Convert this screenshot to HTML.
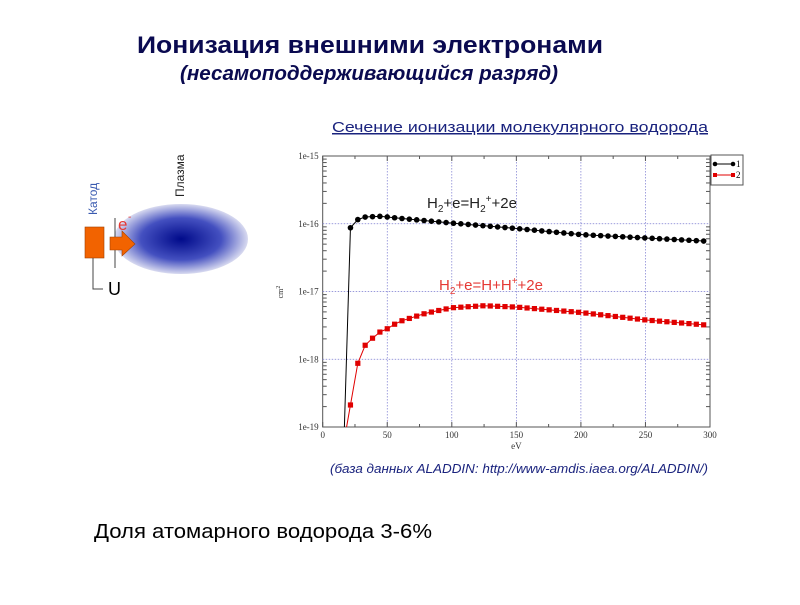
<!DOCTYPE html>
<html><head><meta charset="utf-8"><style>
body{margin:0;width:800px;height:600px;background:#fff;overflow:hidden;font-family:"Liberation Sans",sans-serif}
</style></head><body>
<svg id="s" width="800" height="600" xmlns="http://www.w3.org/2000/svg" font-family="Liberation Sans, sans-serif">
<defs><radialGradient id="g" cx="0.5" cy="0.5" r="0.5"><stop offset="0" stop-color="#000a8a"/><stop offset="0.6" stop-color="#4450c0"/><stop offset="1" stop-color="#d8daf0"/></radialGradient></defs>
<text x="137" y="53" font-size="24" font-weight="bold" fill="#0a0a50" textLength="466" lengthAdjust="spacingAndGlyphs">Ионизация внешними электронами</text>
<text x="180" y="80" font-size="20" font-style="italic" font-weight="bold" fill="#0a0a50" textLength="378" lengthAdjust="spacingAndGlyphs">(несамоподдерживающийся разряд)</text>
<text x="332" y="132" font-size="15" fill="#1a237e" text-decoration="underline" textLength="376" lengthAdjust="spacingAndGlyphs">Сечение ионизации молекулярного водорода</text>
<text x="330" y="473" font-size="13" font-style="italic" fill="#1a237e" textLength="378" lengthAdjust="spacingAndGlyphs">(база данных ALADDIN: http://www-amdis.iaea.org/ALADDIN/)</text>
<text x="94" y="538" font-size="20" fill="#000" textLength="338" lengthAdjust="spacingAndGlyphs">Доля атомарного водорода 3-6%</text>
<!-- diagram -->
<ellipse cx="181" cy="239" rx="67" ry="35" fill="url(#g)"/>
<rect x="85" y="227" width="19" height="31" fill="#f26300" stroke="#a04000" stroke-width="0.6"/>
<line x1="115" y1="218" x2="115" y2="268" stroke="#444" stroke-width="1"/>
<polygon points="110,237 122,237 122,231 135,244 122,256 122,250 110,250" fill="#f26300" stroke="#a04000" stroke-width="0.6"/>
<polyline points="93,258 93,289 103,289" fill="none" stroke="#444" stroke-width="1"/>
<text x="108" y="295" font-size="18" fill="#000">U</text>
<text x="118" y="230" font-size="17" fill="#e53935">e</text><text x="128" y="220" font-size="10" fill="#e53935">-</text>
<text transform="translate(97,215) rotate(-90)" font-size="12" fill="#3b5bb0">Катод</text>
<text transform="translate(184,197) rotate(-90)" font-size="12" fill="#222">Плазма</text>
<g id="c"></g>
<text x="427" y="208" font-size="15" fill="#222">H<tspan font-size="10" dy="4">2</tspan><tspan dy="-4">+e=H</tspan><tspan font-size="10" dy="4">2</tspan><tspan font-size="10" dy="-10">+</tspan><tspan dy="6">+2e</tspan></text>
<text x="439" y="290" font-size="15" fill="#e53935">H<tspan font-size="10" dy="4">2</tspan><tspan dy="-4">+e=H+H</tspan><tspan font-size="10" dy="-6">+</tspan><tspan dy="6">+2e</tspan></text>
</svg>
<script>
var c=document.getElementById('c'),h='';
var L=322.7,R=710,T=156,B=427,dec=67.75;
function X(e){return L+(e-0)*(R-L)/300}
function Y(l){return T+(-15-l)*dec}
h+='<rect x="'+L+'" y="'+T+'" width="'+(R-L)+'" height="'+(B-T)+'" fill="#fff" stroke="#555" stroke-width="1"/>';
for(var i=50;i<300;i+=50)h+='<line x1="'+X(i)+'" y1="'+T+'" x2="'+X(i)+'" y2="'+B+'" stroke="#7a7ad0" stroke-width="0.7" stroke-dasharray="1.5,1.5"/>';
for(var d=-16;d>=-18;d--)h+='<line x1="'+L+'" y1="'+Y(d)+'" x2="'+R+'" y2="'+Y(d)+'" stroke="#7a7ad0" stroke-width="0.7" stroke-dasharray="1.5,1.5"/>';
for(var d=-15;d>=-19;d--){h+='<text x="'+(L-4)+'" y="'+(Y(d)+3)+'" font-size="9" font-family="Liberation Serif" text-anchor="end" fill="#333">1e'+d+'</text>';
 for(var k=2;k<10;k++){var y=Y(d-1)-Math.log10(k)*dec;if(d>-19){h+='<line x1="'+L+'" y1="'+y+'" x2="'+(L+4)+'" y2="'+y+'" stroke="#555"/><line x1="'+R+'" y1="'+y+'" x2="'+(R-4)+'" y2="'+y+'" stroke="#555"/>';}}}
for(var i=0;i<=300;i+=25){h+='<line x1="'+X(i)+'" y1="'+B+'" x2="'+X(i)+'" y2="'+(B-(i%50?3:5))+'" stroke="#555"/><line x1="'+X(i)+'" y1="'+T+'" x2="'+X(i)+'" y2="'+(T+(i%50?3:5))+'" stroke="#555"/>';
 if(i%50==0)h+='<text x="'+X(i)+'" y="'+(B+11)+'" font-size="9" font-family="Liberation Serif" text-anchor="middle" fill="#333">'+i+'</text>';}
h+='<text x="'+X(150)+'" y="'+(B+22)+'" font-size="9" font-family="Liberation Serif" text-anchor="middle" fill="#333">eV</text>';
h+='<text transform="translate(283,292) rotate(-90)" font-size="8" font-family="Liberation Serif" text-anchor="middle" fill="#333">cm<tspan font-size="6" dy="-3">2</tspan></text>';
function interp(p,e){for(var i=0;i<p.length-1;i++)if(e<=p[i+1][0]){var t=(e-p[i][0])/(p[i+1][0]-p[i][0]);return p[i][1]+t*(p[i+1][1]-p[i][1]);}return p[p.length-1][1];}
var bk=[[21,-16.07],[27,-15.94],[33,-15.9],[45,-15.89],[60,-15.92],[100,-15.99],[150,-16.07],[200,-16.16],[250,-16.21],[300,-16.26]];
var rd=[[21,-18.73],[27,-18.07],[32,-17.81],[38,-17.7],[43,-17.61],[50,-17.55],[55,-17.49],[60,-17.44],[80,-17.32],[100,-17.24],[125,-17.21],[150,-17.23],[200,-17.31],[250,-17.42],[300,-17.5]];
var xs=[];for(var e=21.5;e<=300.5;e+=5.7)xs.push(Math.min(e,300));
function series(p,col,sq,x0){var pts=[[X(x0),B]],m='';xs.forEach(function(e){var x=X(e),y=Y(interp(p,e));pts.push([x,y]);m+=sq?'<rect x="'+(x-2.6)+'" y="'+(y-2.6)+'" width="5.2" height="5.2" fill="'+col+'"/>':'<circle cx="'+x+'" cy="'+y+'" r="2.8" fill="'+col+'"/>';});
 return '<polyline points="'+pts.map(function(q){return q.join(',')}).join(' ')+'" fill="none" stroke="'+col+'" stroke-width="1"/>'+m;}
h+=series(bk,'#000',0,16.8);h+=series(rd,'#e00000',1,18.5);
h+='<rect x="711" y="155" width="32" height="30" fill="#fff" stroke="#555"/>';
h+='<line x1="715" y1="164" x2="733" y2="164" stroke="#000"/><circle cx="715" cy="164" r="2.3"/><circle cx="733" cy="164" r="2.3"/><text x="736" y="167" font-size="9" font-family="Liberation Serif">1</text>';
h+='<line x1="715" y1="175" x2="733" y2="175" stroke="#e00000"/><rect x="713" y="173" width="4" height="4" fill="#e00000"/><rect x="731" y="173" width="4" height="4" fill="#e00000"/><text x="736" y="178" font-size="9" font-family="Liberation Serif">2</text>';
c.innerHTML=h;
</script>
</body></html>
